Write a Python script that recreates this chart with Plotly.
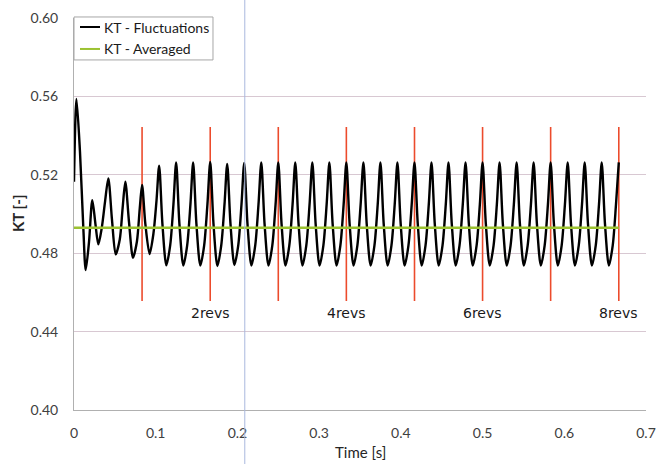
import plotly.graph_objects as go

# Thrust coefficient history: peaks, troughs and edge points of each blade passage
kt_time = [
    0.0000, 0.0030, 0.0073, 0.0114, 0.0143, 0.0184,
    0.0224, 0.0262, 0.0298, 0.0339, 0.0380,
    0.0420, 0.0465, 0.0510, 0.0560, 0.0595,
    0.0628, 0.0673, 0.0722, 0.0770, 0.0805,
    0.0833, 0.0873, 0.0925, 0.0972, 0.1010,
    0.1042, 0.1082, 0.1130, 0.1177, 0.1217,
    0.1250, 0.1290, 0.1338, 0.1385, 0.1425,
    0.1458, 0.1498, 0.1546, 0.1593, 0.1633,
    0.1667, 0.1707, 0.1755, 0.1802, 0.1842,
    0.1875, 0.1915, 0.1963, 0.2010, 0.2050,
    0.2083, 0.2123, 0.2171, 0.2218, 0.2258,
    0.2292, 0.2332, 0.2380, 0.2427, 0.2467,
    0.2500, 0.2540, 0.2588, 0.2635, 0.2675,
    0.2708, 0.2748, 0.2796, 0.2843, 0.2883,
    0.2917, 0.2957, 0.3005, 0.3052, 0.3092,
    0.3125, 0.3165, 0.3213, 0.3260, 0.3300,
    0.3333, 0.3373, 0.3421, 0.3468, 0.3508,
    0.3542, 0.3582, 0.3630, 0.3677, 0.3717,
    0.3750, 0.3790, 0.3838, 0.3885, 0.3925,
    0.3958, 0.3998, 0.4046, 0.4093, 0.4133,
    0.4167, 0.4207, 0.4255, 0.4302, 0.4342,
    0.4375, 0.4415, 0.4463, 0.4510, 0.4550,
    0.4583, 0.4623, 0.4671, 0.4718, 0.4758,
    0.4792, 0.4832, 0.4880, 0.4927, 0.4967,
    0.5000, 0.5040, 0.5088, 0.5135, 0.5175,
    0.5208, 0.5248, 0.5296, 0.5343, 0.5383,
    0.5417, 0.5457, 0.5505, 0.5552, 0.5592,
    0.5625, 0.5665, 0.5713, 0.5760, 0.5800,
    0.5833, 0.5873, 0.5921, 0.5968, 0.6008,
    0.6042, 0.6082, 0.6130, 0.6177, 0.6217,
    0.6250, 0.6290, 0.6338, 0.6385, 0.6425,
    0.6458, 0.6498, 0.6546, 0.6593, 0.6633,
    0.6667,
]
kt_values = [
    0.5165, 0.5587, 0.5318, 0.4929, 0.4714, 0.4859,
    0.5071, 0.4950, 0.4845, 0.4927, 0.5063,
    0.5182, 0.4970, 0.4794, 0.4870, 0.5030,
    0.5165, 0.4960, 0.4777, 0.4860, 0.5030,
    0.5148, 0.4950, 0.4796, 0.4900, 0.5070,
    0.5247, 0.4950, 0.4738, 0.4840, 0.5050,
    0.5263, 0.4950, 0.4737, 0.4840, 0.5050,
    0.5263, 0.4950, 0.4737, 0.4840, 0.5050,
    0.5265, 0.4950, 0.4735, 0.4840, 0.5050,
    0.5255, 0.4950, 0.4740, 0.4840, 0.5050,
    0.5260, 0.4950, 0.4737, 0.4840, 0.5050,
    0.5263, 0.4950, 0.4737, 0.4840, 0.5050,
    0.5263, 0.4950, 0.4737, 0.4840, 0.5050,
    0.5263, 0.4950, 0.4737, 0.4840, 0.5050,
    0.5263, 0.4950, 0.4737, 0.4840, 0.5050,
    0.5263, 0.4950, 0.4737, 0.4840, 0.5050,
    0.5263, 0.4950, 0.4737, 0.4840, 0.5050,
    0.5263, 0.4950, 0.4737, 0.4840, 0.5050,
    0.5263, 0.4950, 0.4737, 0.4840, 0.5050,
    0.5263, 0.4950, 0.4737, 0.4840, 0.5050,
    0.5263, 0.4950, 0.4737, 0.4840, 0.5050,
    0.5263, 0.4950, 0.4737, 0.4840, 0.5050,
    0.5263, 0.4950, 0.4737, 0.4840, 0.5050,
    0.5263, 0.4950, 0.4737, 0.4840, 0.5050,
    0.5263, 0.4950, 0.4737, 0.4840, 0.5050,
    0.5263, 0.4950, 0.4737, 0.4840, 0.5050,
    0.5263, 0.4950, 0.4737, 0.4840, 0.5050,
    0.5263, 0.4950, 0.4737, 0.4840, 0.5050,
    0.5263, 0.4950, 0.4737, 0.4840, 0.5050,
    0.5263, 0.4950, 0.4737, 0.4840, 0.5050,
    0.5263, 0.4950, 0.4737, 0.4840, 0.5050,
    0.5263, 0.4950, 0.4737, 0.4840, 0.5050,
    0.5263,
]

# Time-averaged thrust coefficient
avg_time = [0.0, 0.6667]
avg_values = [0.493, 0.493]

# Revolution markers (one revolution every 1/12 s)
rev_times = [0.0833, 0.1667, 0.2500, 0.3333, 0.4167, 0.5000, 0.5833, 0.6667]
rev_span = [0.4556, 0.5444]
rev_label_times = [0.1667, 0.3333, 0.5000, 0.6667]
rev_labels = ["2revs", "4revs", "6revs", "8revs"]
rev_label_level = 0.4495

x_ticks = [0, 0.1, 0.2, 0.3, 0.4, 0.5, 0.6, 0.7]
x_tick_text = ["0", "0.1", "0.2", "0.3", "0.4", "0.5", "0.6", "0.7"]
y_ticks = [0.40, 0.44, 0.48, 0.52, 0.56, 0.60]
y_tick_text = ["0.40", "0.44", "0.48", "0.52", "0.56", "0.60"]

series_names = ["KT - Fluctuations", "KT - Averaged"]
series_colors = ["#000000", "#9cc231"]

x_range = [0, 0.7]
y_range = [0.40, 0.60]
cursor_time = 0.209

TICK_FONT = dict(family="Lato", size=14, color="#404040")

fig = go.Figure()

rev_x, rev_y = [], []
for t in rev_times:
    rev_x += [t, t, None]
    rev_y += [rev_span[0], rev_span[1], None]
fig.add_trace(go.Scatter(
    x=rev_x, y=rev_y, mode="lines", showlegend=False, hoverinfo="skip",
    line=dict(color="#ec4b2c", width=1.6),
))

fig.add_trace(go.Scatter(
    x=kt_time, y=kt_values, mode="lines", name=series_names[0], showlegend=False,
    line=dict(color=series_colors[0], width=2.4, shape="spline", smoothing=0.8),
))

fig.add_trace(go.Scatter(
    x=avg_time, y=avg_values, mode="lines", name=series_names[1], showlegend=False,
    line=dict(color=series_colors[1], width=2.6),
))

for t, label in zip(rev_label_times, rev_labels):
    fig.add_annotation(
        x=t, y=rev_label_level, xref="x", yref="y", text=label,
        showarrow=False, xanchor="center", yanchor="middle",
        font=dict(family="DejaVu Sans", size=14, color="#1a1a1a"),
    )

# Axis titles
fig.add_annotation(
    x=0.5, y=0, xref="paper", yref="paper", yshift=-42, text="Time [s]",
    showarrow=False, xanchor="center", yanchor="middle",
    font=dict(family="Lato", size=15, color="#262626"),
)
fig.add_annotation(
    x=0, y=0.5, xref="paper", yref="paper", xshift=-56, text="<b>KT [-]</b>",
    showarrow=False, textangle=-90, xanchor="center", yanchor="middle",
    font=dict(family="Lato", size=15, color="#262626"),
)

# Legend box in the top-left corner of the plot area
fig.add_shape(
    type="rect", xref="paper", yref="paper",
    x0=0, x1=0.243, y0=0.893, y1=1.0026,
    fillcolor="white", line=dict(color="#a6a6a6", width=1), layer="above",
)
legend_rows = [0.977, 0.921]
for name, color, row in zip(series_names, series_colors, legend_rows):
    fig.add_shape(
        type="line", xref="paper", yref="paper",
        x0=0.0105, x1=0.0455, y0=row, y1=row,
        line=dict(color=color, width=2), layer="above",
    )
    fig.add_annotation(
        x=0.0495, y=row, xref="paper", yref="paper", text=name,
        showarrow=False, xanchor="left", yanchor="middle",
        font=dict(family="Lato", size=14, color="#1a1a1a"),
    )

# Thin vertical cursor line crossing the whole figure
fig.add_shape(
    type="line", xref="paper", yref="paper",
    x0=cursor_time / x_range[1], x1=cursor_time / x_range[1], y0=-0.2, y1=1.1,
    line=dict(color="#a9b9de", width=1), layer="above",
)

fig.update_layout(
    width=656, height=464,
    margin=dict(l=74, r=10, t=18, b=54),
    paper_bgcolor="white", plot_bgcolor="white",
    showlegend=False,
    xaxis=dict(
        range=x_range, tickvals=x_ticks, ticktext=x_tick_text, automargin=False,
        showgrid=False, zeroline=False, showline=True, linecolor="#b0b0b0",
        linewidth=1, ticks="", ticklabelstandoff=10, tickfont=TICK_FONT,
    ),
    yaxis=dict(
        range=y_range, tickvals=y_ticks, ticktext=y_tick_text, automargin=False,
        showgrid=True, gridcolor="#d8c8d2", gridwidth=1, zeroline=False,
        showline=True, linecolor="#b0b0b0", linewidth=1, ticks="",
        ticklabelstandoff=12, tickfont=TICK_FONT,
    ),
)

fig.write_html("out.html")
